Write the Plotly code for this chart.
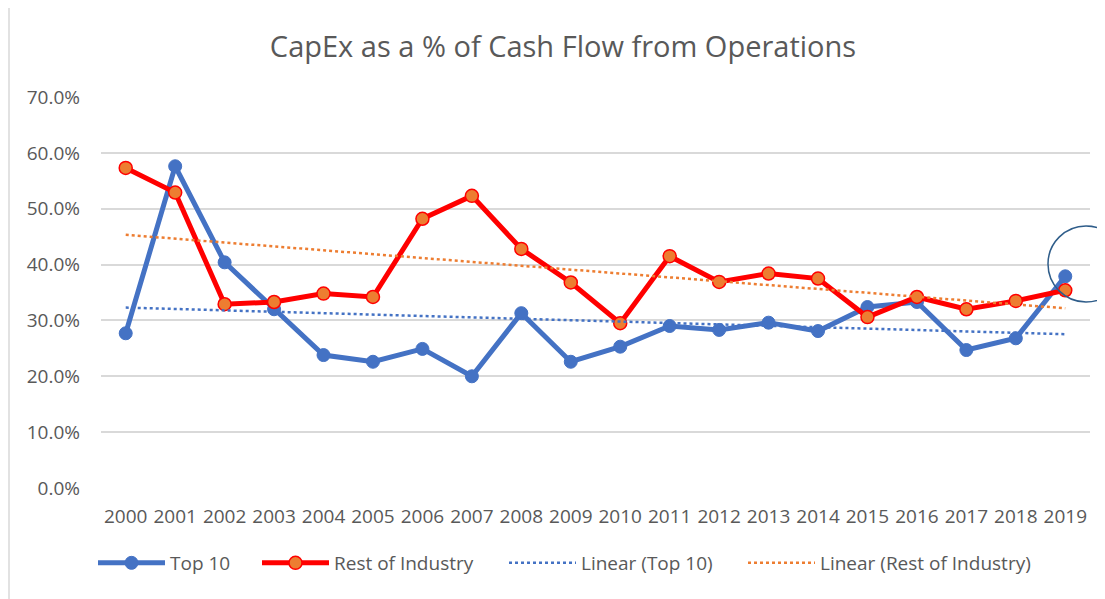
import numpy as np
import plotly.graph_objects as go

years = list(range(2000, 2020))
top10 = [27.7, 57.6, 40.4, 32.0, 23.8, 22.6, 24.9, 20.0, 31.3, 22.6,
         25.3, 29.0, 28.3, 29.6, 28.1, 32.4, 33.3, 24.7, 26.8, 37.9]
rest = [57.3, 52.9, 32.9, 33.3, 34.8, 34.2, 48.2, 52.3, 42.8, 36.8,
        29.5, 41.5, 36.9, 38.4, 37.5, 30.6, 34.2, 32.0, 33.5, 35.4]
ytick_vals = [0, 10, 20, 30, 40, 50, 60, 70]
ytick_text = ["0.0%", "10.0%", "20.0%", "30.0%", "40.0%", "50.0%", "60.0%", "70.0%"]

top10_f = [v / 100 for v in top10]
rest_f = [v / 100 for v in rest]
xs = np.array(years, dtype=float)
k1, b1 = np.polyfit(xs, top10_f, 1)
k2, b2 = np.polyfit(xs, rest_f, 1)
trend_top = list(k1 * xs + b1)
trend_rest = list(k2 * xs + b2)

BLUE = "#4472C4"
RED = "#FF0000"
ORANGE = "#ED7D31"
GRAY = "#595959"
GRID = "#D9D9D9"
FONT = "Open Sans"
FS = 19

fig = go.Figure()
fig.add_trace(go.Scatter(x=years, y=top10_f, name="Top 10", mode="lines+markers",
                         line=dict(color=BLUE, width=5),
                         marker=dict(color=BLUE, size=13, line=dict(color=BLUE, width=1)),
                         legend="legend"))
fig.add_trace(go.Scatter(x=years, y=rest_f, name="Rest of Industry", mode="lines+markers",
                         line=dict(color=RED, width=5),
                         marker=dict(color=ORANGE, size=13, line=dict(color=RED, width=1.5)),
                         legend="legend2"))
fig.add_trace(go.Scatter(x=years, y=trend_top, name="Linear (Top 10)", mode="lines",
                         line=dict(color=BLUE, width=2.5, dash="dot"),
                         legend="legend3"))
fig.add_trace(go.Scatter(x=years, y=trend_rest, name="Linear (Rest of Industry)", mode="lines",
                         line=dict(color=ORANGE, width=2.5, dash="dot"),
                         legend="legend4"))

# page has an 8px body margin; work in screen pixels and convert
OFF = 8
W, H = 1105 - OFF, 599 - OFF
L = 101 - OFF
T = 97 - OFF
R = 1105 - 1090
B = 599 - 488
pw, ph = W - L - R, H - T - B

def px_x(p):
    return (p - OFF - L) / pw

def px_y(p):
    return (H - B - (p - OFF)) / ph

leg_common = dict(orientation="h", yanchor="middle", xanchor="left",
                  bgcolor="rgba(0,0,0,0)", font=dict(family=FONT, size=FS, color=GRAY),
                  itemwidth=67)
ly = px_y(563)

fig.update_layout(
    width=W, height=H,
    margin=dict(l=L, r=R, t=T, b=B),
    paper_bgcolor="white", plot_bgcolor="white",
    font=dict(family=FONT, size=FS, color=GRAY),
    title=dict(text="CapEx as a % of Cash Flow from Operations", x=(563 - OFF) / W, xanchor="center",
               y=1 - (47 - OFF) / H, yanchor="middle", xref="container", yref="container",
               font=dict(family=FONT, size=29, color=GRAY)),
    xaxis=dict(range=[1999.5, 2019.5], tickvals=years, ticktext=[str(y) for y in years],
               showgrid=False, zeroline=False, showline=False, ticks="",
               tickfont=dict(family=FONT, size=FS, color=GRAY), ticklabelstandoff=15,
               fixedrange=True),
    yaxis=dict(range=[0, 0.7], tickvals=[v / 100 for v in ytick_vals], ticktext=ytick_text,
               showgrid=True, gridcolor=GRID, gridwidth=1.5, zeroline=False, showline=False,
               ticks="", tickfont=dict(family=FONT, size=FS, color=GRAY), ticklabelstandoff=20,
               fixedrange=True),
    legend=dict(x=px_x(93), y=ly, **leg_common),
    legend2=dict(x=px_x(257), y=ly, **leg_common),
    legend3=dict(x=px_x(504), y=ly, **leg_common),
    legend4=dict(x=px_x(743), y=ly, **leg_common),
    showlegend=True,
)

# chart outline
fig.add_shape(type="rect", xref="paper", yref="paper",
              x0=px_x(9), x1=px_x(1200), y0=px_y(700), y1=px_y(6),
              line=dict(color=GRID, width=1.5), fillcolor="rgba(0,0,0,0)", layer="below")
# highlight circle
fig.add_shape(type="circle", xref="paper", yref="paper",
              x0=px_x(1048), x1=px_x(1124), y0=px_y(302), y1=px_y(226),
              line=dict(color="#2F5D8A", width=1.5), fillcolor="rgba(0,0,0,0)")

fig.write_html("out.html")
